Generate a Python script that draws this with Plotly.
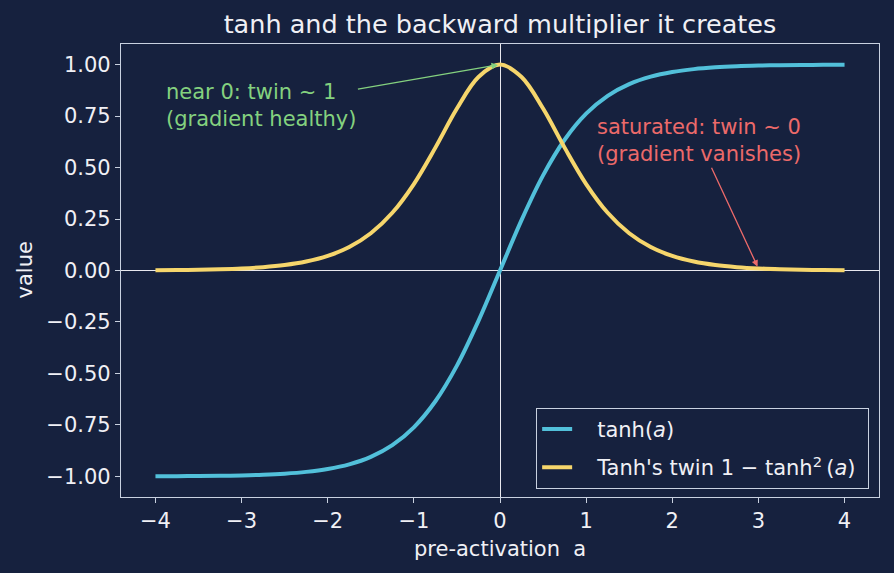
import plotly.graph_objects as go

# ---- data ----
a_vals = [-4.0, -3.75, -3.5, -3.25, -3.0, -2.75, -2.5, -2.25, -2.0, -1.75, -1.5, -1.25, -1.0,
          -0.75, -0.5, -0.25, 0.0, 0.25, 0.5, 0.75, 1.0, 1.25, 1.5, 1.75, 2.0, 2.25, 2.5,
          2.75, 3.0, 3.25, 3.5, 3.75, 4.0]
tanh_vals = [-0.9993, -0.9989, -0.9982, -0.9970, -0.9951, -0.9919, -0.9866, -0.9780, -0.9640,
             -0.9414, -0.9051, -0.8483, -0.7616, -0.6351, -0.4621, -0.2449, 0.0, 0.2449,
             0.4621, 0.6351, 0.7616, 0.8483, 0.9051, 0.9414, 0.9640, 0.9780, 0.9866, 0.9919,
             0.9951, 0.9970, 0.9982, 0.9989, 0.9993]
twin_vals = [0.0013, 0.0022, 0.0036, 0.0060, 0.0099, 0.0163, 0.0266, 0.0435, 0.0707, 0.1138,
             0.1807, 0.2804, 0.4200, 0.5967, 0.7864, 0.9400, 1.0, 0.9400, 0.7864, 0.5967,
             0.4200, 0.2804, 0.1807, 0.1138, 0.0707, 0.0435, 0.0266, 0.0163, 0.0099, 0.0060,
             0.0036, 0.0022, 0.0013]

x_ticks = [-4, -3, -2, -1, 0, 1, 2, 3, 4]
x_ticktext = ["\u22124", "\u22123", "\u22122", "\u22121", "0", "1", "2", "3", "4"]
y_ticks = [-1.0, -0.75, -0.5, -0.25, 0.0, 0.25, 0.5, 0.75, 1.0]
y_ticktext = ["\u22121.00", "\u22120.75", "\u22120.50", "\u22120.25", "0.00", "0.25", "0.50", "0.75", "1.00"]

series_names = ["tanh(<i>a</i>)", "Tanh's twin 1 \u2212 tanh<sup>2</sup>\u2009(<i>a</i>)"]

BG = "#16213e"
FG = "#f0f0f5"
SPINE = "#c9d1e0"
CYAN = "#52c0da"
YELLOW = "#f6d66c"
GREEN = "#84d17f"
RED = "#ec6a6a"
FONT = "DejaVu Sans"
FS = 21
PADL = "\u00a0\u00a0\u00a0"
PADR = "\u00a0"

fig = go.Figure()
fig.add_trace(go.Scatter(x=a_vals, y=tanh_vals, mode="lines", name=PADL + series_names[0] + PADR,
                         line=dict(color=CYAN, width=4, shape="spline"), legendgroup="g1"))
fig.add_trace(go.Scatter(x=a_vals, y=twin_vals, mode="lines", name=PADL + series_names[1] + PADR,
                         line=dict(color=YELLOW, width=4, shape="spline"), legendgroup="g2"))

fig.add_annotation(x=0, y=1.0, xref="x", yref="y", ax=-2.77, ay=0.80, axref="x", ayref="y",
                   text="near 0: twin ~ 1<br>(gradient healthy)", align="left",
                   font=dict(family=FONT, size=FS, color=GREEN),
                   showarrow=True, arrowhead=2, arrowsize=1, arrowwidth=1.3, arrowcolor=GREEN,
                   standoff=2)
fig.add_annotation(x=3, y=0.0099, xref="x", yref="y", ax=2.31, ay=0.63, axref="x", ayref="y",
                   text="saturated: twin ~ 0<br>(gradient vanishes)", align="left",
                   font=dict(family=FONT, size=FS, color=RED),
                   showarrow=True, arrowhead=2, arrowsize=1, arrowwidth=1.3, arrowcolor=RED,
                   standoff=2)

# axis titles
fig.add_annotation(text="pre-activation\u00a0 a", xref="paper", yref="paper", x=0.5,
                   y=(497 - 549) / 453, xanchor="center", yanchor="middle", showarrow=False,
                   font=dict(family=FONT, size=FS, color=FG))
fig.add_annotation(text="value", xref="paper", yref="paper", x=(24 - 121) / 758, y=0.5,
                   xanchor="center", yanchor="middle", textangle=-90, showarrow=False,
                   font=dict(family=FONT, size=FS, color=FG))

fig.update_layout(
    width=894, height=573,
    paper_bgcolor=BG, plot_bgcolor=BG,
    margin=dict(l=121, r=15, t=44, b=76),
    font=dict(family=FONT, size=FS, color=FG),
    title=dict(text="tanh and the backward multiplier it creates", x=0.5, xref="paper",
               y=1 - 24 / 573, yref="container", yanchor="middle", xanchor="center",
               font=dict(family=FONT, size=25.5, color=FG)),
    legend=dict(x=0.987, y=0.018, xanchor="right", yanchor="bottom", bgcolor=BG,
                bordercolor=SPINE, borderwidth=1, font=dict(family=FONT, size=FS, color=FG),
                traceorder="grouped", tracegroupgap=8),
    xaxis=dict(range=[-4.4, 4.4], tickvals=x_ticks, ticktext=x_ticktext, ticks="outside",
               ticklen=5, tickcolor=SPINE, showline=True, linecolor=SPINE, linewidth=1.2,
               mirror=True, showgrid=False, zeroline=True, zerolinecolor="#e8e8ee",
               zerolinewidth=1, tickfont=dict(size=FS, color=FG)),
    yaxis=dict(range=[-1.1, 1.1], tickvals=y_ticks, ticktext=y_ticktext, ticks="outside",
               ticklen=5, tickcolor=SPINE, showline=True, linecolor=SPINE, linewidth=1.2,
               mirror=True, showgrid=False, zeroline=True, zerolinecolor="#e8e8ee",
               zerolinewidth=1, tickfont=dict(size=FS, color=FG)),
)

fig.write_html("out.html")
